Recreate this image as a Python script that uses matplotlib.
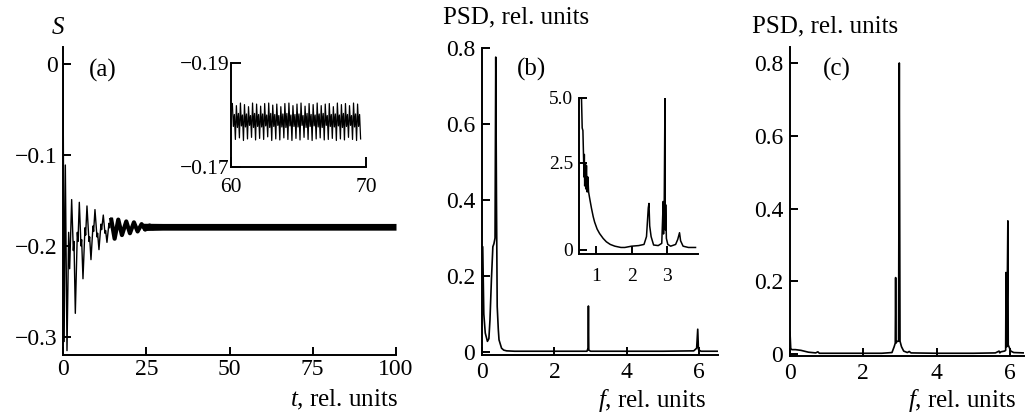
import numpy as np
import matplotlib
matplotlib.use("Agg")
from matplotlib import pyplot as plt

plt.rcParams['font.family'] = ['Liberation Serif', 'DejaVu Serif']
plt.rcParams['mathtext.fontset'] = 'custom'
plt.rcParams['mathtext.rm'] = 'Liberation Serif'
plt.rcParams['mathtext.it'] = 'Liberation Serif:italic'

# ---- (a) S(t): pontos de virada ----
t_a = [0.0, 0.35, 0.7, 1.2, 1.7, 2.0, 2.6, 3.1, 3.3, 3.7, 4.3, 4.5, 4.9, 5.4, 5.6,
       6.0, 6.6, 6.8, 7.2, 7.8, 8.0, 8.4, 9.0, 9.2, 9.6, 10.2, 10.4, 10.8, 11.4,
       11.6, 12.1, 12.6, 12.8, 13.2, 13.8, 14.0, 14.4, 15.5, 16.6, 17.7, 19.0,
       20.1, 21.3, 22.4, 23.6, 24.7, 26.0, 27.0, 28.0]
s_a = [0.004, -0.305, -0.111, -0.315, -0.185, -0.225, -0.149, -0.205, -0.195,
       -0.274, -0.185, -0.195, -0.152, -0.200, -0.193, -0.236, -0.180, -0.188,
       -0.156, -0.195, -0.190, -0.215, -0.178, -0.184, -0.160, -0.190, -0.186,
       -0.204, -0.176, -0.182, -0.166, -0.186, -0.183, -0.196, -0.175, -0.180,
       -0.169, -0.192, -0.171, -0.188, -0.173, -0.186, -0.174, -0.184, -0.176,
       -0.182, -0.1775, -0.1805, -0.179]

# faixa da oscilacao rapida (regime estacionario)
t_faixa = [24.0, 30.0, 45.0, 100.0]
s_faixa_sup = [-0.1750, -0.1752, -0.1752, -0.1752]
s_faixa_inf = [-0.1830, -0.1826, -0.1826, -0.1826]

# ---- (a) detalhe 60..70 ----
pico_sup = [-0.1822, -0.1818, -0.1823, -0.1820, -0.1816, -0.1823, -0.1821, -0.1817,
            -0.1822, -0.1823, -0.1819, -0.1821, -0.1816, -0.1822, -0.1823, -0.1818,
            -0.1821, -0.1823, -0.1817, -0.1822, -0.1820, -0.1823, -0.1818, -0.1821,
            -0.1822, -0.1816, -0.1823, -0.1820, -0.1822, -0.1818, -0.1823, -0.1821]
meio_1 = [-0.1778, -0.1776, -0.1779, -0.1777, -0.1780, -0.1776, -0.1778, -0.1777,
          -0.1779, -0.1776, -0.1778, -0.1780, -0.1777, -0.1776, -0.1779, -0.1778,
          -0.1777, -0.1780, -0.1776, -0.1778, -0.1779, -0.1777, -0.1776, -0.1780,
          -0.1778, -0.1777, -0.1779, -0.1776, -0.1778, -0.1780, -0.1777, -0.1778]
meio_2 = [-0.1801, -0.1803, -0.1800, -0.1802, -0.1799, -0.1803, -0.1801, -0.1802,
          -0.1800, -0.1803, -0.1801, -0.1799, -0.1802, -0.1803, -0.1800, -0.1801,
          -0.1802, -0.1799, -0.1803, -0.1801, -0.1800, -0.1802, -0.1803, -0.1799,
          -0.1801, -0.1802, -0.1800, -0.1803, -0.1801, -0.1799, -0.1802, -0.1801]
pico_inf = [-0.1753, -0.1756, -0.1751, -0.1754, -0.1757, -0.1752, -0.1755, -0.1753,
            -0.1758, -0.1751, -0.1754, -0.1752, -0.1756, -0.1753, -0.1751, -0.1755,
            -0.1752, -0.1757, -0.1753, -0.1751, -0.1754, -0.1756, -0.1752, -0.1753,
            -0.1755, -0.1751, -0.1754, -0.1752, -0.1757, -0.1753, -0.1751, -0.1754]

# ---- (b) PSD ----
f_b = [0.0, 0.02, 0.05, 0.09, 0.15, 0.19, 0.22, 0.26, 0.30, 0.33, 0.36, 0.38, 0.40,
       0.42, 0.45, 0.47, 0.54, 0.60, 0.68, 0.9, 1.5, 2.0, 2.5, 2.90, 2.93, 2.94,
       2.95, 3.0, 3.5, 4.0, 5.0, 5.85, 5.93, 5.96, 5.98, 6.05, 6.52]
p_b = [0.277, 0.277, 0.10, 0.05, 0.028, 0.035, 0.084, 0.19, 0.277, 0.285, 0.30, 0.776,
       0.40, 0.12, 0.06, 0.032, 0.01, 0.005, 0.003, 0.002, 0.002, 0.002, 0.002, 0.002,
       0.01, 0.121, 0.005, 0.002, 0.002, 0.002, 0.002, 0.003, 0.01, 0.06, 0.006,
       0.002, 0.002]

# ---- (b) detalhe ----
f_bi = [0.56, 0.59, 0.61, 0.63, 0.65, 0.66, 0.67, 0.68, 0.70, 0.71, 0.73, 0.75, 0.77,
        0.79, 0.82, 0.87, 0.92, 0.96, 1.03, 1.1, 1.2, 1.29, 1.4, 1.53, 1.7, 1.81, 2.0,
        2.2, 2.35, 2.42, 2.47, 2.49, 2.51, 2.55, 2.62, 2.75, 2.85, 2.89, 2.90, 2.92,
        2.94, 2.95, 2.96, 2.98, 3.02, 3.1, 3.24, 3.3, 3.35, 3.38, 3.45, 3.6, 3.8]
p_bi = [5.0, 5.0, 3.8, 3.7, 2.6, 2.0, 2.8, 1.7, 2.5, 1.6, 2.4, 1.5, 2.0, 1.5, 1.3, 1.0,
        0.75, 0.6, 0.42, 0.31, 0.2, 0.13, 0.08, 0.05, 0.03, 0.03, 0.05, 0.06, 0.08, 0.24,
        1.0, 1.14, 0.5, 0.24, 0.07, 0.06, 0.1, 1.2, 0.3, 1.24, 5.0, 0.4, 1.1, 0.2, 0.08,
        0.05, 0.08, 0.18, 0.33, 0.15, 0.05, 0.03, 0.03]

# ---- (c) PSD ----
f_c = [0.0, 0.02, 0.05, 0.15, 0.3, 0.5, 0.7, 0.76, 0.8, 1.5, 2.5, 2.78, 2.84, 2.87,
       2.88, 2.89, 2.92, 2.96, 2.98, 3.0, 3.04, 3.1, 3.2, 3.25, 3.3, 4.0, 5.0, 5.6,
       5.7, 5.72, 5.75, 5.85, 5.88, 5.89, 5.91, 5.94, 5.95, 5.97, 6.02, 6.1, 6.38]
p_c = [0.06, 0.015, 0.012, 0.012, 0.01, 0.005, 0.003, 0.006, 0.002, 0.002, 0.002,
       0.004, 0.02, 0.03, 0.21, 0.03, 0.035, 0.035, 0.80, 0.035, 0.02, 0.008, 0.004,
       0.007, 0.003, 0.002, 0.002, 0.003, 0.008, 0.003, 0.006, 0.008, 0.01, 0.224,
       0.02, 0.366, 0.025, 0.02, 0.008, 0.004, 0.003]

W, H = 1025, 419
fig = plt.figure(figsize=(W / 100, H / 100), dpi=100)


def eixo(x0, y0, x1, y1):
    # caixa em pixels (esquerda, topo, direita, base)
    return fig.add_axes([x0 / W, (H - y1) / H, (x1 - x0) / W, (y1 - y0) / H])


def estilo(ax, tam, comp, padx, pady, lw=1.4):
    for s in ['top', 'right']:
        ax.spines[s].set_visible(False)
    for s in ['left', 'bottom']:
        ax.spines[s].set_linewidth(lw)
    ax.tick_params(direction='in', length=comp, width=lw, labelsize=tam, colors='black')
    ax.tick_params(axis='x', pad=padx)
    ax.tick_params(axis='y', pad=pady)
    ax.patch.set_alpha(0)


# (a)
axa = eixo(63, 47, 396, 355)
axa.plot(t_a, s_a, color='black', lw=1.0)
axa.plot(t_a[36:], s_a[36:], color='black', lw=3.0, solid_capstyle='butt')
axa.fill_between(t_faixa, s_faixa_inf, s_faixa_sup, color='black', lw=0)
axa.set_xlim(0, 100)
axa.set_ylim(-0.3198, 0.0187)
axa.set_xticks([0, 25, 50, 75, 100])
axa.set_yticks([0, -0.1, -0.2, -0.3])
axa.set_yticklabels(['0', '\u22120.1', '\u22120.2', '\u22120.3'])
estilo(axa, 17, 6, 3, 4)
fig.text(58 / W, 1 - 28 / H, 'S', style='italic', fontsize=18, ha='center', va='center')
fig.text(103 / W, 1 - 70 / H, '(a)', fontsize=18, ha='center', va='center')
fig.text(398 / W, 1 - 400 / H, r'$t$, rel. units', fontsize=18, ha='right', va='center')

axai = eixo(231, 63, 366, 167)
s_in = np.column_stack([pico_sup, meio_1, meio_2, pico_inf]).ravel()
t_in = np.linspace(60.1, 69.6, s_in.size)
axai.plot(t_in, s_in, color='black', lw=0.9)
axai.set_xlim(60, 70)
axai.set_ylim(-0.17, -0.19)
axai.set_xticks([60, 70])
axai.set_yticks([-0.19, -0.17])
axai.set_yticklabels(['\u22120.19', '\u22120.17'])
estilo(axai, 15.5, 7, 8, 1)

# (b)
axb = eixo(482, 48, 718, 355)
axb.plot(f_b, p_b, color='black', lw=1.2)
axb.set_xlim(0, 6.52)
axb.set_ylim(-0.0079, 0.8)
axb.set_xticks([0, 2, 4, 6])
axb.set_yticks([0, 0.2, 0.4, 0.6, 0.8])
axb.set_yticklabels(['0', '0.2', '0.4', '0.6', '0.8'])
estilo(axb, 17, 6, 5, 5)
fig.text(443 / W, 1 - 17 / H, 'PSD, rel. units', fontsize=18, ha='left', va='center')
fig.text(531 / W, 1 - 69 / H, '(b)', fontsize=18, ha='center', va='center')
fig.text(706 / W, 1 - 400 / H, r'$f$, rel. units', fontsize=18, ha='right', va='center')

axbi = eixo(579, 98, 698, 254)
axbi.plot(f_bi, p_bi, color='black', lw=1.1)
axbi.set_yscale('function', functions=(lambda v: np.sign(v) * np.abs(v) ** 0.8,
                                       lambda v: np.sign(v) * np.abs(v) ** 1.25))
axbi.set_xlim(0.52, 3.87)
axbi.set_ylim(-0.053, 5.0)
axbi.set_xticks([1, 2, 3])
axbi.set_yticks([0, 2.5, 5.0])
axbi.set_yticklabels(['0', '2.5', '5.0'])
axbi.minorticks_off()
estilo(axbi, 14, 5.5, 10, 4)

# (c)
axc = eixo(790, 47, 1024, 356)
axc.plot(f_c, p_c, color='black', lw=1.2)
axc.set_xlim(0, 6.38)
axc.set_ylim(-0.0055, 0.844)
axc.set_xticks([0, 2, 4, 6])
axc.set_yticks([0, 0.2, 0.4, 0.6, 0.8])
axc.set_yticklabels(['0', '0.2', '0.4', '0.6', '0.8'])
estilo(axc, 17, 6, 5, 5)
fig.text(752 / W, 1 - 26 / H, 'PSD, rel. units', fontsize=18, ha='left', va='center')
fig.text(837 / W, 1 - 69 / H, '(c)', fontsize=18, ha='center', va='center')
fig.text(1016 / W, 1 - 400 / H, r'$f$, rel. units', fontsize=18, ha='right', va='center')

plt.savefig('out.png', dpi=100)
